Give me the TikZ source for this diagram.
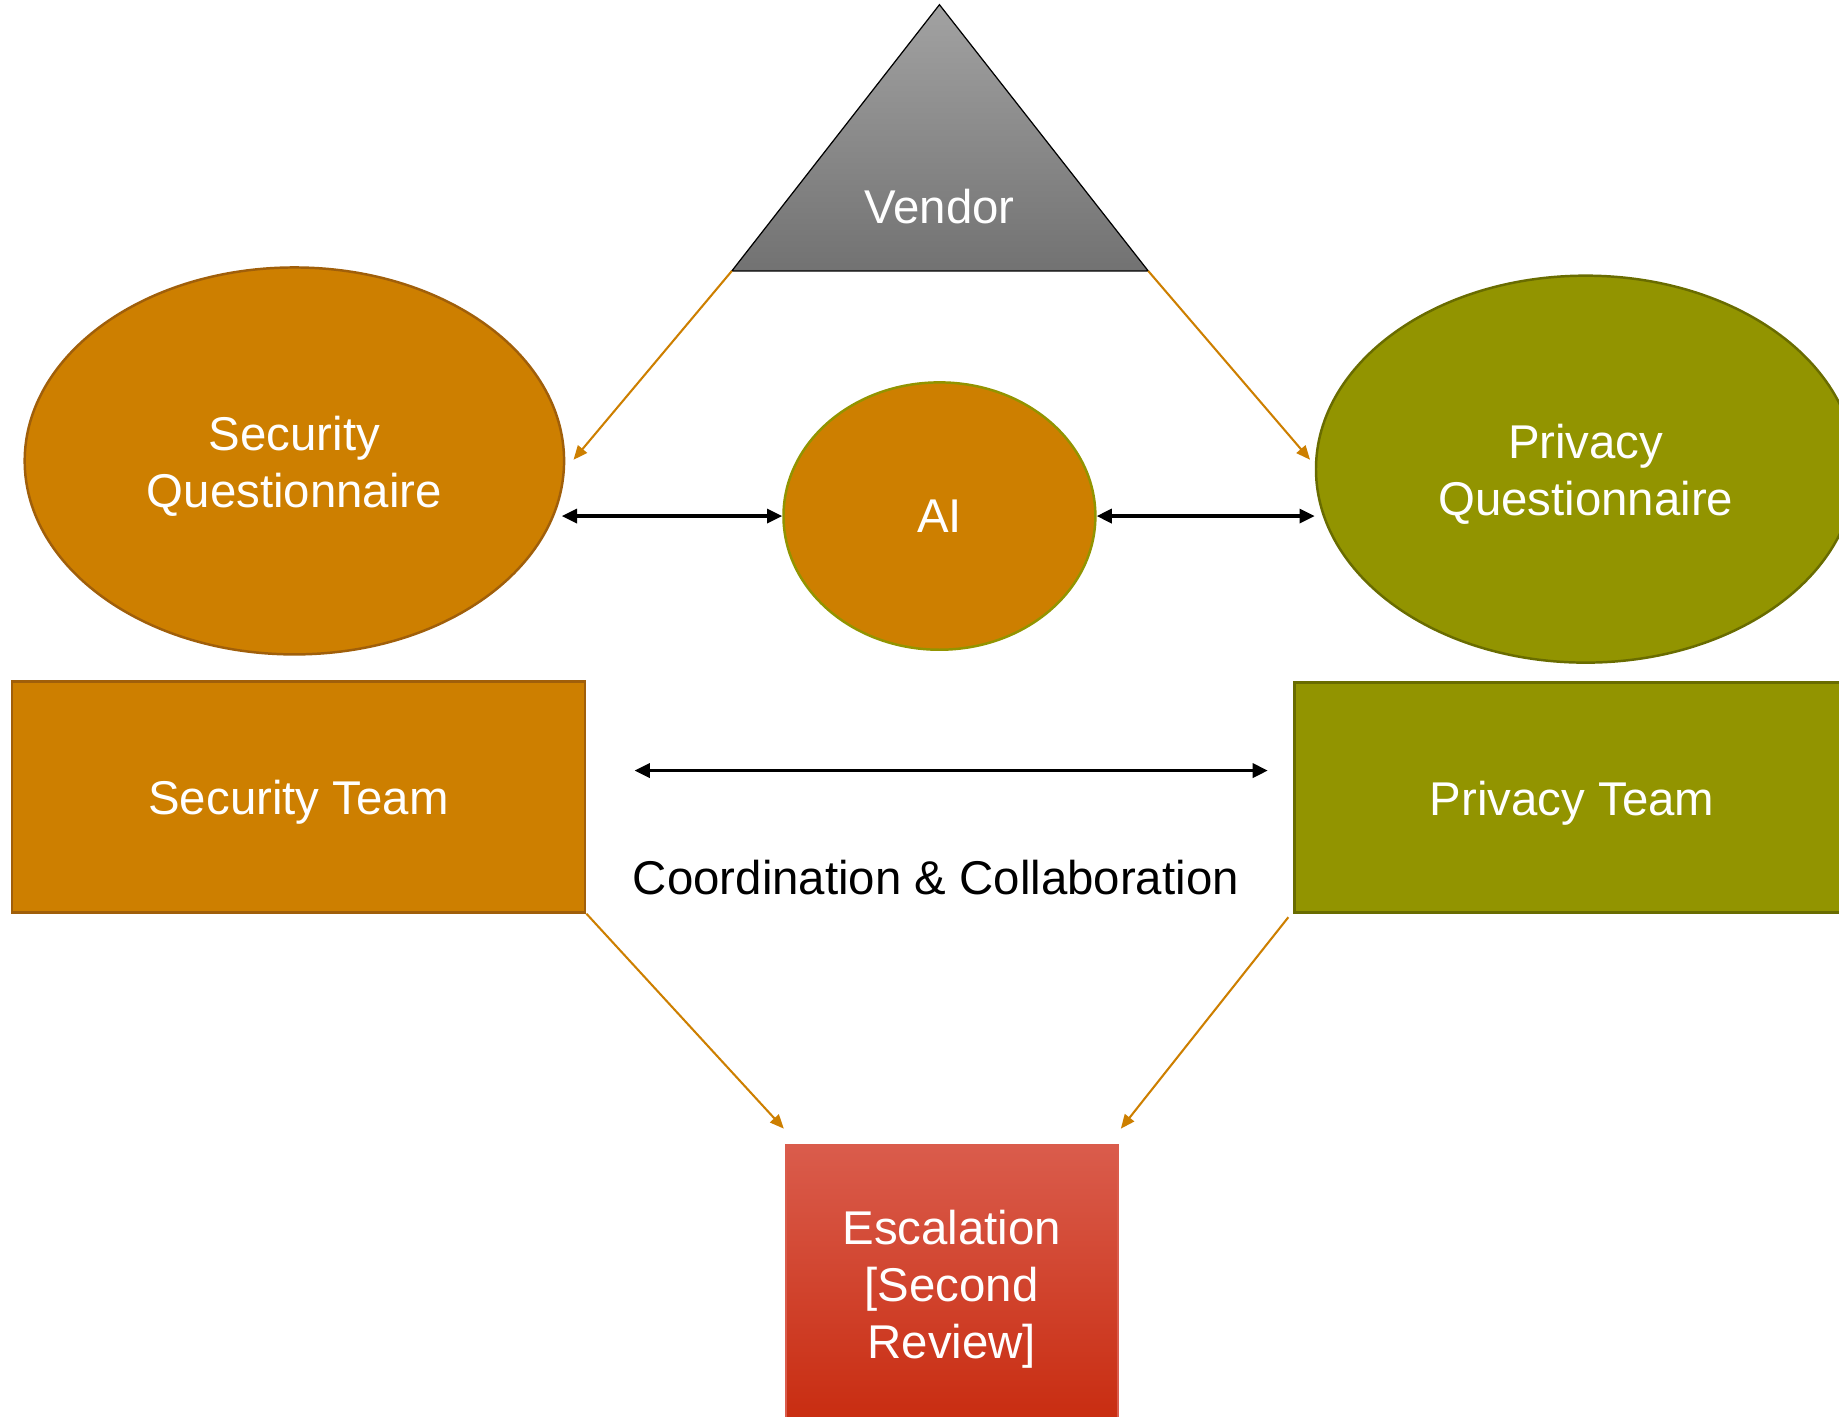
\documentclass[tikz,border=0pt]{standalone}
\usepackage{fontspec}
\setmainfont{Liberation Sans}
\usetikzlibrary{shapes.geometric,arrows.meta,calc}
\definecolor{orng}{RGB}{205,127,0}
\definecolor{orngborder}{RGB}{160,95,10}
\definecolor{olive}{RGB}{146,148,0}
\definecolor{oliveborder}{RGB}{105,108,0}
\definecolor{redtop}{RGB}{218,92,76}
\definecolor{redbot}{RGB}{200,44,16}
\definecolor{grytop}{RGB}{162,162,162}
\definecolor{grybot}{RGB}{114,114,114}
\tikzset{
  lbl/.style={font=\fontsize{23}{27.6}\selectfont, align=center},
  wlbl/.style={lbl, text=white},
  wtext/.style 2 args={label={[wlbl, name=#1, yshift=-0.09cm]center:#2}},
  orngell/.style={ellipse, draw=orngborder, line width=1.2pt, fill=orng, inner sep=0pt},
  oliveell/.style={ellipse, draw=oliveborder, line width=1.2pt, fill=olive, inner sep=0pt},
  teambox/.style={rectangle, line width=1.2pt, inner sep=0pt},
  flowarrow/.style={draw=orng, line width=1pt, -{Triangle[length=0.24cm, width=0.2cm]}},
  linkarrow/.style={draw=black, line width=1.6pt, {Triangle[length=0.26cm, width=0.24cm]}-{Triangle[length=0.26cm, width=0.24cm]}}
}
\begin{document}
\begin{tikzpicture}[x=0.02cm, y=-0.02cm]
\useasboundingbox (0,0) rectangle (1568,1208);
\clip (0,0) rectangle (1568,1208);

% Vendor triangle
\coordinate (vtop) at (801,4);
\coordinate (vl) at (624,231);
\coordinate (vr) at (979,231);
\shade[top color=grytop, bottom color=grybot, draw=black, line width=0.6pt] (vtop) -- (vr) -- (vl) -- cycle;
\node[wlbl] (vendor) at (801,176) {Vendor};

% Ellipses
\node[orngell, minimum width=9.2cm, minimum height=6.6cm, wtext={sqtxt}{Security\\Questionnaire}] (sq) at (251,393) {};
\node[orngell, draw=olive, minimum width=5.32cm, minimum height=4.56cm] (ai) at (801,440) {};
\node[wlbl] (aitxt) at (801,440) {AI};
\node[oliveell, minimum width=9.2cm, minimum height=6.6cm, wtext={pqtxt}{Privacy\\Questionnaire}] (pq) at (1352,400) {};

% Teams
\node[teambox, draw=orngborder, fill=orng, minimum width=9.78cm, minimum height=3.94cm, wtext={sttxt}{Security Team}] (st) at (254.5,679.5) {};
\node[teambox, draw=oliveborder, fill=olive, minimum width=9.48cm, minimum height=3.92cm, wtext={pttxt}{Privacy Team}] (pt) at (1340.5,680) {};

% Escalation
\node[teambox, draw=redtop, line width=0.8pt, top color=redtop, bottom color=redbot, minimum width=5.66cm, minimum height=4.76cm, wtext={esctxt}{Escalation\\{[Second}\\Review]}] (esc) at (811.5,1095) {};

% Coordination label
\node[lbl, text=black] (coord) at (798,748) {Coordination \& Collaboration};
\coordinate (cl) at (541,657);
\coordinate (cr) at (1081,657);

% Orange flow arrows
\draw[flowarrow] (vl) -- ($(sq.east)+(7,-1)$);
\draw[flowarrow] (vr) -- ($(pq.west)+(-4,-8)$);
\draw[flowarrow] (st.south east) -- ($(esc.north west)+(-1,-13)$);
\draw[flowarrow] ($(pt.south west)+(-4,3)$) -- ($(esc.north east)+(2,-13)$);

% Black link arrows
\draw[linkarrow] ($(ai.west -| sq.east)+(-3,0)$) -- (ai.west);
\draw[linkarrow] (ai.east) -- (ai.east -| pq.west);
\draw[linkarrow] (cl) -- (cr);
\end{tikzpicture}
\end{document}
